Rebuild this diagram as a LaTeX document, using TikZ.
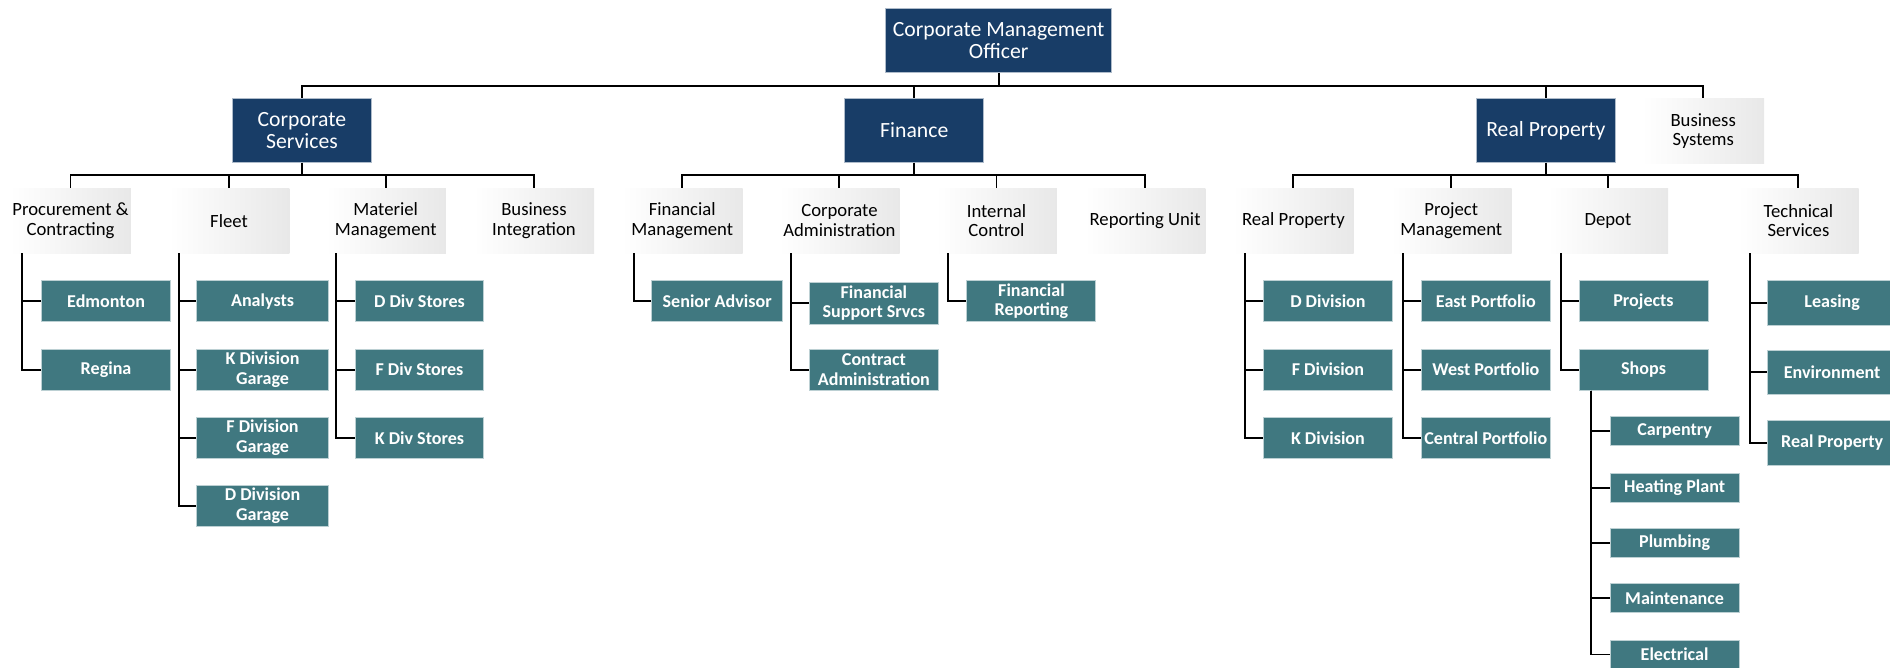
\documentclass[tikz,border=0pt]{standalone}
\usepackage{fontspec}
\setmainfont{Carlito}
\definecolor{navy}{RGB}{24,61,103}
\definecolor{tealbox}{RGB}{64,120,128}
\tikzset{
  headbox/.style={fill=navy, draw=white!65!navy, line width=.8pt, text=white, minimum width=115pt, minimum height=53pt, inner sep=0pt, align=center, font=\fontsize{18}{18}\selectfont},
  unitbox/.style={left color=white, right color=black!9, minimum width=100pt, minimum height=54pt, inner sep=0pt, align=center, font=\fontsize{15.5}{16}\selectfont},
  teambox/.style={fill=tealbox, draw=white!65!tealbox, line width=.8pt, text=white, minimum width=107pt, minimum height=34pt, inner sep=0pt, align=center, font=\bfseries\fontsize{15}{16}\selectfont},
  orgline/.style={draw=black, line width=1.6pt}
}
\begin{document}
\begin{tikzpicture}[x=1pt,y=-1pt]
\useasboundingbox[fill=white] (0,0) rectangle (1568,554);
\node[headbox, minimum width=188pt] (cmo) at (828.5,33.6) {Corporate Management\\Officer};
\node[headbox] (cs) at (250.5,108.1) {Corporate\\Services};
\node[headbox] (fin) at (758.5,108.1) {Finance};
\node[headbox] (rp) at (1282.5,108.1) {Real Property};
\node[unitbox, minimum width=101pt] (bs) at (1413,108.5) {Business\\Systems};

\node[unitbox] (pc) at (58.5,183) {Procurement \&\\Contracting};
\node[unitbox] (fl) at (190,183) {Fleet};
\node[unitbox] (mm) at (320,183) {Materiel\\Management};
\node[unitbox] (bi) at (443,183) {Business\\Integration};
\node[unitbox] (fm) at (566,183) {Financial\\Management};
\node[unitbox] (ca) at (696.4,183) {Corporate\\Administration};
\node[unitbox] (ic) at (826.7,183) {Internal\\Control};
\node[unitbox] (ru) at (950,183) {Reporting Unit};
\node[unitbox] (rpu) at (1073,183) {Real Property};
\node[unitbox] (pm) at (1204,183) {Project\\Management};
\node[unitbox] (dp) at (1334,183) {Depot};
\node[unitbox] (ts) at (1492,183) {Technical\\Services};

\node[teambox] (edm) at (88,250) {Edmonton};
\node[teambox] (reg) at (88,306.6) {Regina};
\node[teambox, minimum width=109pt] (ana) at (217.8,250) {Analysts};
\node[teambox, minimum width=109pt] (kdg) at (217.8,306.6) {K Division\\Garage};
\node[teambox, minimum width=109pt] (fdg) at (217.8,363.2) {F Division\\Garage};
\node[teambox, minimum width=109pt] (ddg) at (217.8,419.5) {D Division\\Garage};
\node[teambox] (dds) at (348,250) {D Div Stores};
\node[teambox] (fds) at (348,306.6) {F Div Stores};
\node[teambox] (kds) at (348,363.2) {K Div Stores};

\node[teambox, minimum width=109pt] (sa) at (595,250) {Senior Advisor};
\node[teambox, minimum height=35pt] (fss) at (725,251.7) {Financial\\Support Srvcs};
\node[teambox] (cad) at (725,306.6) {Contract\\Administration};
\node[teambox] (fr) at (855.7,250) {Financial\\Reporting};

\node[teambox] (dd) at (1101.7,250) {D Division};
\node[teambox] (fd) at (1101.7,306.6) {F Division};
\node[teambox] (kd) at (1101.7,363.2) {K Division};
\node[teambox] (ep) at (1232.7,250) {East Portfolio};
\node[teambox] (wp) at (1232.7,306.6) {West Portfolio};
\node[teambox] (cp) at (1232.7,363.2) {Central Portfolio};
\node[teambox] (prj) at (1363.5,250) {Projects};
\node[teambox] (shp) at (1363.5,306.6) {Shops};
\node[teambox, minimum height=24pt] (crp) at (1389.3,357.7) {Carpentry};
\node[teambox, minimum height=24pt] (hp) at (1389.3,404.6) {Heating Plant};
\node[teambox, minimum height=24pt] (plb) at (1389.3,450.5) {Plumbing};
\node[teambox, minimum height=24pt] (mnt) at (1389.3,496.2) {Maintenance};
\node[teambox, minimum height=24pt] (ele) at (1389.3,543) {Electrical};
\node[teambox, minimum height=37pt] (lea) at (1520,251.2) {Leasing};
\node[teambox, minimum height=37pt] (env) at (1520,309) {Environment};
\node[teambox, minimum height=37pt] (rpt) at (1520,367.4) {Real Property};

\coordinate (bar0) at (0,71.3);
\coordinate (bar1) at (0,145);
\draw[orgline] (cmo.south) -- (cmo.south |- bar0);
\draw[orgline] (cs.north) |- (bar0 -| bs.north) -- (bs.north);
\draw[orgline] (fin.north) -- (fin.north |- bar0);
\draw[orgline] (rp.north) -- (rp.north |- bar0);

\draw[orgline] (cs.south) -- (cs.south |- bar1);
\draw[orgline] (pc.north) |- (bar1 -| bi.north) -- (bi.north);
\draw[orgline] (fl.north) -- (fl.north |- bar1);
\draw[orgline] (mm.north) -- (mm.north |- bar1);
\draw[orgline] (fin.south) -- (fin.south |- bar1);
\draw[orgline] (fm.north) |- (bar1 -| ru.north) -- (ru.north);
\draw[orgline] (ca.north) -- (ca.north |- bar1);
\draw[orgline] (ic.north) -- (ic.north |- bar1);
\draw[orgline] (rp.south) -- (rp.south |- bar1);
\draw[orgline] (rpu.north) |- (bar1 -| ts.north) -- (ts.north);
\draw[orgline] (pm.north) -- (pm.north |- bar1);
\draw[orgline] (dp.north) -- (dp.north |- bar1);

\draw[orgline] ([xshift=10pt]pc.south west) |- (edm.west);
\draw[orgline] ([xshift=10pt]pc.south west) |- (reg.west);
\draw[orgline] ([xshift=9pt]fl.south west) |- (ana.west);
\draw[orgline] ([xshift=9pt]fl.south west) |- (kdg.west);
\draw[orgline] ([xshift=9pt]fl.south west) |- (fdg.west);
\draw[orgline] ([xshift=9pt]fl.south west) |- (ddg.west);
\draw[orgline] ([xshift=9pt]mm.south west) |- (dds.west);
\draw[orgline] ([xshift=9pt]mm.south west) |- (fds.west);
\draw[orgline] ([xshift=9pt]mm.south west) |- (kds.west);
\draw[orgline] ([xshift=10pt]fm.south west) |- (sa.west);
\draw[orgline] ([xshift=10pt]ca.south west) |- (fss.west);
\draw[orgline] ([xshift=10pt]ca.south west) |- (cad.west);
\draw[orgline] ([xshift=10pt]ic.south west) |- (fr.west);
\draw[orgline] ([xshift=10pt]rpu.south west) |- (dd.west);
\draw[orgline] ([xshift=10pt]rpu.south west) |- (fd.west);
\draw[orgline] ([xshift=10pt]rpu.south west) |- (kd.west);
\draw[orgline] ([xshift=10pt]pm.south west) |- (ep.west);
\draw[orgline] ([xshift=10pt]pm.south west) |- (wp.west);
\draw[orgline] ([xshift=10pt]pm.south west) |- (cp.west);
\draw[orgline] ([xshift=11pt]dp.south west) |- (prj.west);
\draw[orgline] ([xshift=11pt]dp.south west) |- (shp.west);
\draw[orgline] ([xshift=10pt]shp.south west) |- (crp.west);
\draw[orgline] ([xshift=10pt]shp.south west) |- (hp.west);
\draw[orgline] ([xshift=10pt]shp.south west) |- (plb.west);
\draw[orgline] ([xshift=10pt]shp.south west) |- (mnt.west);
\draw[orgline] ([xshift=10pt]shp.south west) |- (ele.west);
\draw[orgline] ([xshift=10pt]ts.south west) |- (lea.west);
\draw[orgline] ([xshift=10pt]ts.south west) |- (env.west);
\draw[orgline] ([xshift=10pt]ts.south west) |- (rpt.west);
\end{tikzpicture}
\end{document}
